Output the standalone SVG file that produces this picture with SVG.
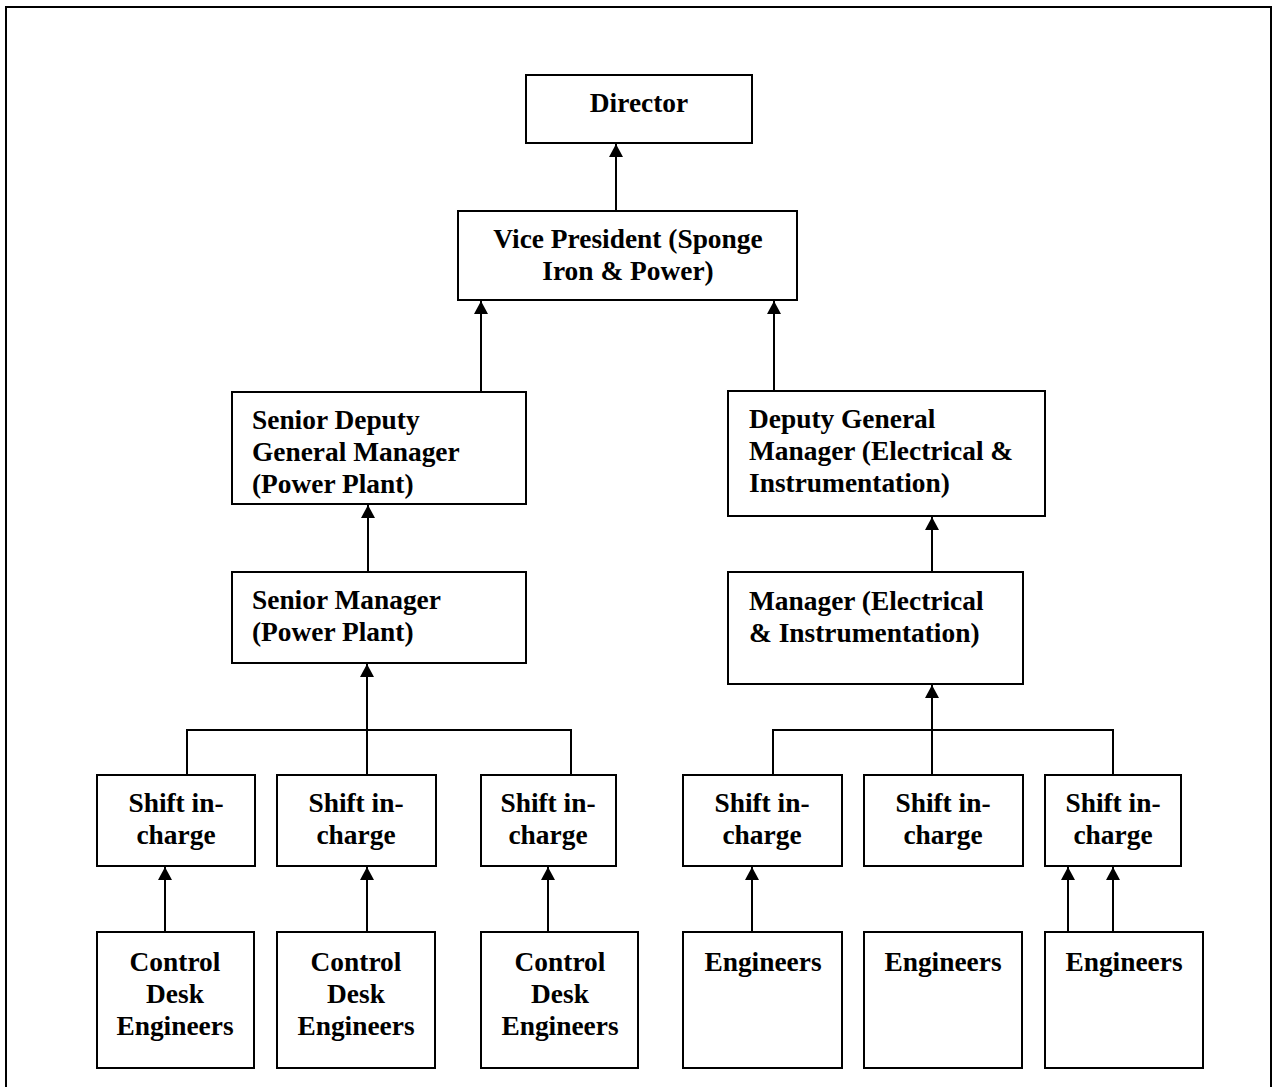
<svg xmlns="http://www.w3.org/2000/svg" width="1274" height="1087" viewBox="0 0 1274 1087">
<style>
.box{fill:#fff;stroke:#000;stroke-width:2}
.t{font-family:"Liberation Serif","Times New Roman",serif;font-weight:bold;font-size:27.4px;fill:#000}
.c{text-anchor:middle}
.ln{fill:none;stroke:#000;stroke-width:2}
</style>
<defs>
<marker id="ah" markerUnits="userSpaceOnUse" markerWidth="14" markerHeight="14" viewBox="0 0 14 14" refX="13" refY="7" orient="auto">
<path d="M0,0 L13,7 L0,14 Z" fill="#000"/>
</marker>
</defs>
<rect x="0" y="0" width="1274" height="1087" fill="#fff"/>
<rect x="6" y="7" width="1265" height="1095" fill="none" stroke="#000" stroke-width="2"/>
<g id="connectors">
<line class="ln" x1="616" y1="211" x2="616" y2="144" marker-end="url(#ah)"/>
<line class="ln" x1="481" y1="392" x2="481" y2="301" marker-end="url(#ah)"/>
<line class="ln" x1="774" y1="391" x2="774" y2="301" marker-end="url(#ah)"/>
<line class="ln" x1="368" y1="572" x2="368" y2="505" marker-end="url(#ah)"/>
<line class="ln" x1="932" y1="572" x2="932" y2="517" marker-end="url(#ah)"/>
<polyline class="ln" points="187,775 187,730 571,730 571,775"/>
<line class="ln" x1="367" y1="775" x2="367" y2="664" marker-end="url(#ah)"/>
<polyline class="ln" points="773,775 773,730 1113,730 1113,775"/>
<line class="ln" x1="932" y1="775" x2="932" y2="685" marker-end="url(#ah)"/>
<line class="ln" x1="165" y1="932" x2="165" y2="867" marker-end="url(#ah)"/>
<line class="ln" x1="367" y1="932" x2="367" y2="867" marker-end="url(#ah)"/>
<line class="ln" x1="548" y1="932" x2="548" y2="867" marker-end="url(#ah)"/>
<line class="ln" x1="752" y1="932" x2="752" y2="867" marker-end="url(#ah)"/>
<line class="ln" x1="1068" y1="932" x2="1068" y2="867" marker-end="url(#ah)"/>
<line class="ln" x1="1113" y1="932" x2="1113" y2="867" marker-end="url(#ah)"/>
</g>
<g id="director"><rect class="box" x="526" y="75" width="226" height="68"/><text class="t c" x="639" y="112">Director</text></g>
<g id="vp"><rect class="box" x="458" y="211" width="339" height="89"/><text class="t c" x="628" y="248">Vice President (Sponge</text><text class="t c" x="628" y="280">Iron &amp; Power)</text></g>
<g id="sdgm"><rect class="box" x="232" y="392" width="294" height="112"/><text class="t" x="252" y="429">Senior Deputy</text><text class="t" x="252" y="461">General Manager</text><text class="t" x="252" y="493">(Power Plant)</text></g>
<g id="dgm"><rect class="box" x="728" y="391" width="317" height="125"/><text class="t" x="749" y="428">Deputy General</text><text class="t" x="749" y="460">Manager (Electrical &amp;</text><text class="t" x="749" y="492">Instrumentation)</text></g>
<g id="sm"><rect class="box" x="232" y="572" width="294" height="91"/><text class="t" x="252" y="609">Senior Manager</text><text class="t" x="252" y="641">(Power Plant)</text></g>
<g id="mgr"><rect class="box" x="728" y="572" width="295" height="112"/><text class="t" x="749" y="610">Manager (Electrical</text><text class="t" x="749" y="642">&amp; Instrumentation)</text></g>
<g id="shift1"><rect class="box" x="97" y="775" width="158" height="91"/><text class="t c" x="176" y="812">Shift in-</text><text class="t c" x="176" y="844">charge</text></g>
<g id="shift2"><rect class="box" x="277" y="775" width="159" height="91"/><text class="t c" x="356" y="812">Shift in-</text><text class="t c" x="356" y="844">charge</text></g>
<g id="shift3"><rect class="box" x="481" y="775" width="135" height="91"/><text class="t c" x="548" y="812">Shift in-</text><text class="t c" x="548" y="844">charge</text></g>
<g id="shift4"><rect class="box" x="683" y="775" width="159" height="91"/><text class="t c" x="762" y="812">Shift in-</text><text class="t c" x="762" y="844">charge</text></g>
<g id="shift5"><rect class="box" x="864" y="775" width="159" height="91"/><text class="t c" x="943" y="812">Shift in-</text><text class="t c" x="943" y="844">charge</text></g>
<g id="shift6"><rect class="box" x="1045" y="775" width="136" height="91"/><text class="t c" x="1113" y="812">Shift in-</text><text class="t c" x="1113" y="844">charge</text></g>
<g id="cde1"><rect class="box" x="97" y="932" width="157" height="136"/><text class="t c" x="175" y="971">Control</text><text class="t c" x="175" y="1003">Desk</text><text class="t c" x="175" y="1035">Engineers</text></g>
<g id="cde2"><rect class="box" x="277" y="932" width="158" height="136"/><text class="t c" x="356" y="971">Control</text><text class="t c" x="356" y="1003">Desk</text><text class="t c" x="356" y="1035">Engineers</text></g>
<g id="cde3"><rect class="box" x="481" y="932" width="157" height="136"/><text class="t c" x="560" y="971">Control</text><text class="t c" x="560" y="1003">Desk</text><text class="t c" x="560" y="1035">Engineers</text></g>
<g id="eng1"><rect class="box" x="683" y="932" width="159" height="136"/><text class="t c" x="763" y="971">Engineers</text></g>
<g id="eng2"><rect class="box" x="864" y="932" width="158" height="136"/><text class="t c" x="943" y="971">Engineers</text></g>
<g id="eng3"><rect class="box" x="1045" y="932" width="158" height="136"/><text class="t c" x="1124" y="971">Engineers</text></g>
</svg>
